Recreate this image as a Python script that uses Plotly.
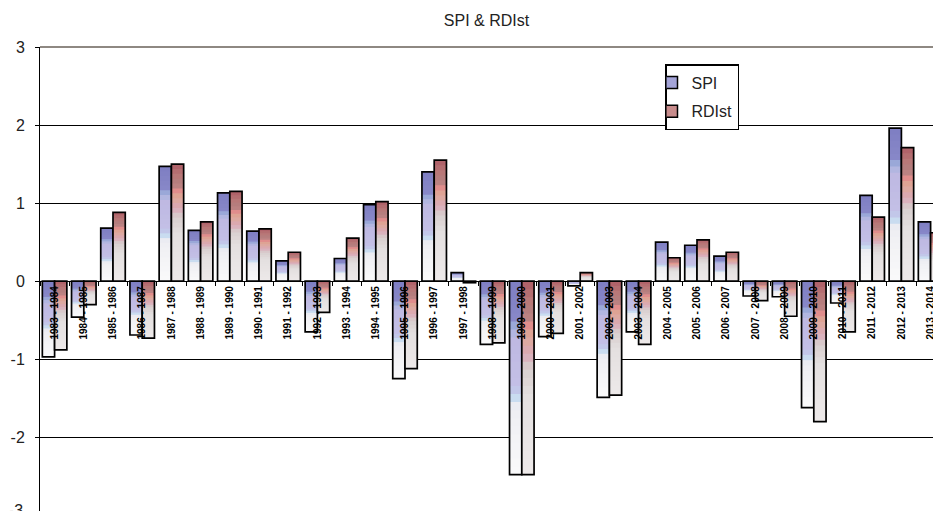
import plotly.graph_objects as go

# ---------------- data ----------------
seasons = [
    "1983 - 1984", "1984 - 1985", "1985 - 1986", "1986 - 1987", "1987 - 1988",
    "1988 - 1989", "1989 - 1990", "1990 - 1991", "1991 - 1992", "1992 - 1993",
    "1993 - 1994", "1994 - 1995", "1995 - 1996", "1996 - 1997", "1997 - 1998",
    "1998 - 1999", "1999 - 2000", "2000 - 2001", "2001 - 2002", "2002 - 2003",
    "2003 - 2004", "2004 - 2005", "2005 - 2006", "2006 - 2007", "2007 - 2008",
    "2008 - 2009", "2009 - 2010", "2010 - 2011", "2011 - 2012", "2012 - 2013",
    "2013 - 2014",
]
spi = [-0.97, -0.46, 0.68, -0.69, 1.47, 0.65, 1.13, 0.64, 0.26, -0.65,
       0.29, 0.98, -1.25, 1.40, 0.11, -0.81, -2.48, -0.71, -0.06, -1.49,
       -0.65, 0.50, 0.46, 0.32, -0.19, -0.20, -1.62, -0.28, 1.10, 1.96,
       0.76]
rdist = [-0.88, -0.30, 0.88, -0.73, 1.50, 0.76, 1.15, 0.67, 0.37, -0.40,
         0.55, 1.02, -1.12, 1.55, -0.02, -0.79, -2.48, -0.67, 0.11, -1.46,
         -0.81, 0.30, 0.53, 0.37, -0.25, -0.45, -1.80, -0.65, 0.82, 1.71,
         0.62]
y_ticks = [-2, -1, 0, 1, 2, 3]
y_tick_text = ["-2", "-1", "0", "1", "2", "3"]
y_bottom_label = "-3"
y_bottom_value = -3

# ---------------- style ----------------
Y_MIN, Y_MAX = -2.945, 3.0
BAR_W = 0.42
N_BANDS = 24
SPI_STOPS = [(0.0, (126, 126, 194)), (0.20, (136, 136, 200)), (0.24, (160, 180, 222)),
             (0.29, (190, 184, 226)), (0.55, (196, 192, 230)), (0.59, (190, 214, 240)),
             (0.65, (238, 238, 242)), (1.0, (250, 250, 250))]
RDI_STOPS = [(0.0, (174, 94, 102)), (0.10, (184, 120, 120)), (0.18, (178, 128, 128)),
             (0.22, (224, 136, 138)), (0.28, (222, 168, 150)), (0.38, (218, 170, 184)),
             (0.45, (216, 206, 206)), (0.60, (228, 224, 224)), (1.0, (238, 234, 234))]
FONT = "Liberation Sans"


def grad_color(stops, f):
    for (f0, c0), (f1, c1) in zip(stops[:-1], stops[1:]):
        if f0 <= f <= f1:
            t = (f - f0) / (f1 - f0) if f1 > f0 else 0
            c = [round(a + (b - a) * t) for a, b in zip(c0, c1)]
            return "rgb(%d,%d,%d)" % tuple(c)
    return "rgb(%d,%d,%d)" % stops[-1][1]


fig = go.Figure()


def add_series(vals, name, stops, offset, legend_color, group):
    # gradient: each band layer covers the bar from its bottom up to a fraction below its top
    for k in range(N_BANDS):
        col = grad_color(stops, (k + 0.5) / N_BANDS)
        bases = [min(v, 0) for v in vals]
        heights = [abs(v) * (1 - k / N_BANDS) for v in vals]
        fig.add_trace(go.Bar(
            x=seasons, y=heights, base=bases, offset=offset, width=BAR_W,
            marker=dict(color=col, line=dict(width=0)),
            showlegend=False, hoverinfo="skip",
        ))
    # outline
    fig.add_trace(go.Bar(
        x=seasons, y=vals, offset=offset, width=BAR_W,
        marker=dict(color="rgba(0,0,0,0)", line=dict(color="black", width=1.7)),
        showlegend=False, hoverinfo="skip",
    ))
    # legend entry
    fig.add_trace(go.Bar(
        x=seasons, y=[None] * len(seasons), name=name, legendgroup=group,
        marker=dict(color=legend_color, line=dict(color="black", width=1.5)),
        hoverinfo="skip",
    ))


add_series(spi, "SPI", SPI_STOPS, -BAR_W, "#a4a4d8", "g1")
add_series(rdist, "RDIst", RDI_STOPS, 0.0, "#c88c8c", "g2")

zero_pos = (0 - Y_MIN) / (Y_MAX - Y_MIN)

fig.update_layout(
    template="none",
    width=933, height=511,
    margin=dict(l=40, r=0, t=47, b=0, pad=0, autoexpand=False),
    paper_bgcolor="white", plot_bgcolor="white",
    barmode="overlay",
    font=dict(family=FONT, color="#222"),
    title=dict(text="SPI & RDIst", x=0.5, xref="paper", xanchor="center",
               y=1 - 20 / 511, yref="container", yanchor="middle",
               font=dict(family=FONT, size=16, color="#222")),
    xaxis=dict(
        type="category", range=[-0.5, -0.5 + 893 / 29.2],
        anchor="free", position=zero_pos, automargin=False,
        showline=True, linecolor="black", linewidth=1,
        ticks="outside", ticklen=4, tickcolor="black", tickson="boundaries",
        tickangle=-90, tickfont=dict(family=FONT, size=10, color="black", weight="bold"),
        showgrid=False, zeroline=False, fixedrange=True,
    ),
    yaxis=dict(
        range=[Y_MIN, Y_MAX], tickvals=y_ticks, ticktext=y_tick_text,
        automargin=False,
        showline=True, linecolor="black", linewidth=1,
        ticks="outside", ticklen=4, tickcolor="black",
        ticklabelstandoff=7,
        tickfont=dict(family=FONT, size=16, color="#222"),
        showgrid=True, gridcolor="black", gridwidth=1,
        zeroline=True, zerolinecolor="black", zerolinewidth=1,
    ),
    legend=dict(
        x=(665 - 40) / 893, y=(511 - 64) / 464, xanchor="left", yanchor="top",
        bgcolor="white", bordercolor="black", borderwidth=1.5,
        font=dict(family=FONT, size=16, color="#222"),
        traceorder="grouped", tracegroupgap=5, itemwidth=30, indentation=-15,
    ),
    shapes=[dict(type="line", xref="paper", yref="paper", x0=0, x1=1, y0=1, y1=1,
                 line=dict(color="#8e8882", width=2), layer="above")],
    annotations=[dict(text=y_bottom_label, xref="paper", yref="paper", x=0, xanchor="right",
                      xshift=-15, yshift=5, y=(y_bottom_value - Y_MIN) / (Y_MAX - Y_MIN),
                      yanchor="middle", showarrow=False,
                      font=dict(family=FONT, size=16, color="#222"))],
)

fig.write_html("out.html", config={"displayModeBar": False, "staticPlot": True},
               post_script="document.body.style.margin='0';")
